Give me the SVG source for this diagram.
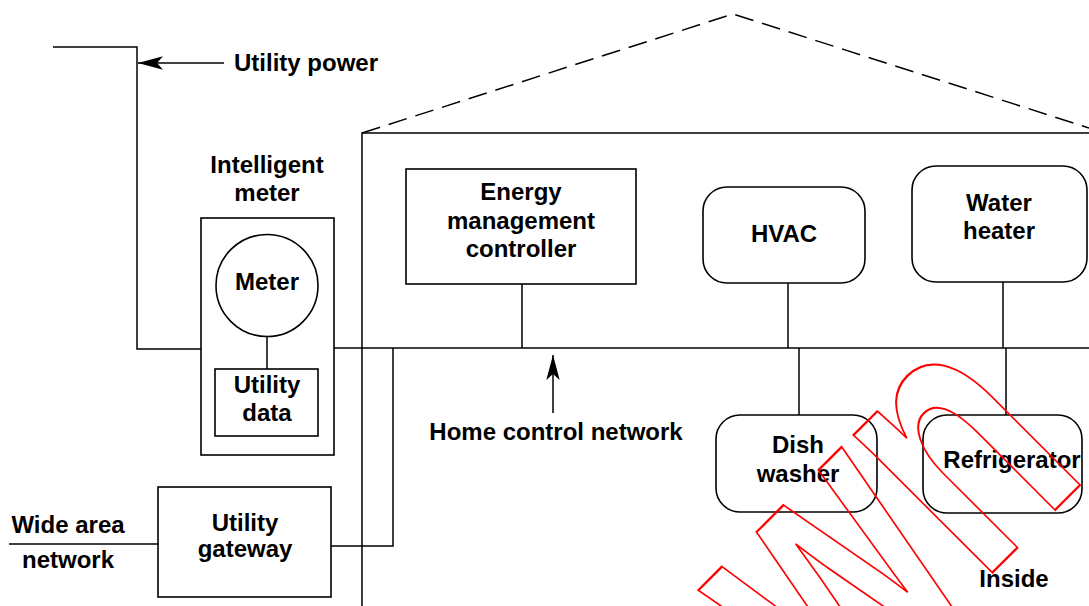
<svg xmlns="http://www.w3.org/2000/svg" width="1089" height="606" viewBox="0 0 1089 606">
<style>
.ln{fill:none;stroke:#000;stroke-width:1.5}
.bx{fill:none;stroke:#000;stroke-width:1.6}
.t{font-family:"Liberation Sans",Arial,Helvetica,sans-serif;font-weight:bold;font-size:24px;fill:#000;text-anchor:middle}
.wm{font-family:"Liberation Sans",Arial,Helvetica,sans-serif;font-weight:bold;font-size:370px;fill:none;stroke:#f00;stroke-width:2;vector-effect:non-scaling-stroke}
</style>
<defs>
<marker id="ah" markerUnits="userSpaceOnUse" markerWidth="26" markerHeight="14" viewBox="0 -7 26 14" refX="25" refY="0" orient="auto">
<path d="M25,0 L0,-6.7 L6,0 L0,6.7 Z" fill="#000"/>
</marker>
</defs>
<rect width="1089" height="606" fill="#fff"/>

<g id="house">
<path class="ln" d="M362,606 V133 H1089"/>
<path class="ln" d="M362,133 L733,14 L1089,128" stroke-dasharray="19 9"/>
</g>

<g id="connectors">
<path class="ln" d="M53,47 H137 V349 H201"/>
<path class="ln" d="M334,348 H1089"/>
<path class="ln" d="M267,337 V369"/>
<path class="ln" d="M393,348 V546 H331"/>
<path class="ln" d="M9,544 H159"/>
<path class="ln" d="M522,284 V348"/>
<path class="ln" d="M788,283 V348"/>
<path class="ln" d="M1003,282 V348"/>
<path class="ln" d="M799,348 V415"/>
<path class="ln" d="M1006,348 V415"/>
<line class="ln" x1="224" y1="63" x2="138" y2="63" marker-end="url(#ah)"/>
<line class="ln" x1="553" y1="413" x2="553" y2="355" marker-end="url(#ah)"/>
</g>

<g id="utility-power-label"><text class="t" x="306" y="71">Utility power</text></g>

<g id="intelligent-meter">
<text class="t" x="267" y="173">Intelligent</text>
<text class="t" x="267" y="201">meter</text>
<rect class="bx" x="201" y="218" width="133" height="237"/>
</g>

<g id="meter">
<circle class="bx" cx="267" cy="285.5" r="51"/>
<text class="t" x="267" y="290">Meter</text>
</g>

<g id="utility-data">
<rect class="bx" x="215" y="369" width="103" height="67"/>
<text class="t" x="267" y="393">Utility</text>
<text class="t" x="267" y="421">data</text>
</g>

<g id="wide-area-network">
<text class="t" x="68" y="533">Wide area</text>
<text class="t" x="68" y="568">network</text>
</g>

<g id="utility-gateway">
<rect class="bx" x="158" y="487" width="173" height="110"/>
<text class="t" x="245" y="531">Utility</text>
<text class="t" x="245" y="557">gateway</text>
</g>

<g id="energy-management-controller">
<rect class="bx" x="406" y="169" width="230" height="115"/>
<text class="t" x="521" y="200">Energy</text>
<text class="t" x="521" y="229">management</text>
<text class="t" x="521" y="257">controller</text>
</g>

<g id="home-control-network-label"><text class="t" x="556" y="440">Home control network</text></g>

<g id="hvac">
<rect class="bx" x="703" y="187" width="162" height="96" rx="24"/>
<text class="t" x="784" y="242">HVAC</text>
</g>

<g id="water-heater">
<rect class="bx" x="912" y="166" width="175" height="116" rx="24"/>
<text class="t" x="999" y="211">Water</text>
<text class="t" x="999" y="239">heater</text>
</g>

<g id="dish-washer">
<rect class="bx" x="716" y="415" width="161" height="97" rx="24"/>
<text class="t" x="798" y="453">Dish</text>
<text class="t" x="798" y="482">washer</text>
</g>

<g id="refrigerator">
<rect class="bx" x="923" y="415" width="159" height="98" rx="24"/>
<text class="t" x="1012" y="468">Refrigerator</text>
</g>

<g id="inside-label"><text class="t" x="1014" y="587">Inside</text></g>

<g id="watermark">
<text class="wm" transform="translate(994,571) rotate(-45) scale(0.7,1)" x="-317" y="0">wn</text>
</g>
</svg>
